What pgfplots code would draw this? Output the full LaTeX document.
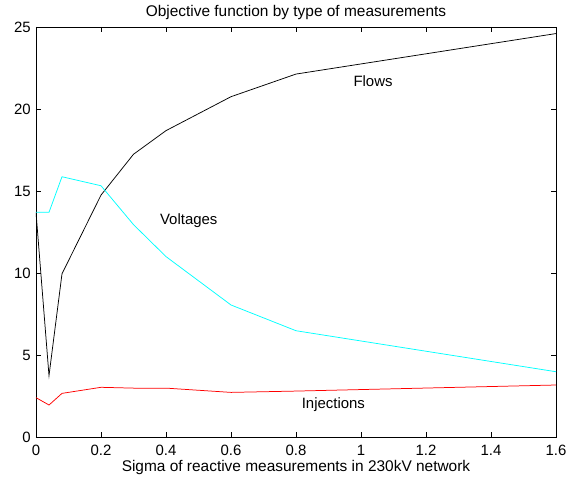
\documentclass[border=0pt]{standalone}
\usepackage{pgfplots}
\pgfplotsset{compat=1.18}
\usepackage{fontspec}
\setmainfont{Liberation Sans}
\definecolor{mcyan}{rgb}{0,1,1}
\begin{document}
\begin{tikzpicture}
\useasboundingbox (-36bp,-48bp) rectangle (549bp,437bp);
\begin{axis}[
  at={(0,0)}, anchor=south west,
  scale only axis, width=520bp, height=410bp,
  xmin=0, xmax=1.6, ymin=0, ymax=25,
  xtick={0,0.2,0.4,0.6,0.8,1,1.2,1.4,1.6},
  ytick={0,5,10,15,20,25},
  tick align=inside, major tick length=5bp,
  axis line style={line width=0.9pt},
  tick style={black, line width=0.5pt},
  /pgf/number format/assume math mode=true,
  /pgf/number format/fixed,
  ticklabel style={font=\fontsize{15}{17}\selectfont},
  xticklabel style={anchor=center, yshift=-13bp, inner sep=0pt},
  yticklabel style={anchor=east, inner sep=0pt, xshift=-5bp},
  title={Objective function by type of measurements},
  title style={font=\fontsize{15.5}{17}\selectfont, at={(axis description cs:0.5,1)}, anchor=center, yshift=9bp},
  xlabel={Sigma of reactive measurements in 230kV network},
  xlabel style={font=\fontsize{15.5}{17}\selectfont, at={(axis description cs:0.5,0)}, anchor=center, yshift=-31bp},
  every axis plot/.append style={line width=0.75pt},
]
\addplot[black] coordinates {(0,13.7) (0.04,3.74) (0.08,9.95) (0.2,14.75) (0.3,17.24) (0.4,18.68) (0.6,20.75) (0.8,22.13) (1.6,24.6)};
\addplot[mcyan] coordinates {(0,13.7) (0.04,13.7) (0.08,15.87) (0.2,15.32) (0.3,12.95) (0.4,11.0) (0.6,8.05) (0.8,6.48) (1.6,3.98)};
\addplot[red] coordinates {(0,2.4) (0.04,1.95) (0.08,2.66) (0.2,3.03) (0.3,2.98) (0.4,2.98) (0.6,2.72) (0.8,2.8) (1.6,3.17)};
\node[font=\fontsize{15}{17}\selectfont] at (axis cs:1.037,21.7) {Flows};
\node[font=\fontsize{15}{17}\selectfont] at (axis cs:0.47,13.2) {Voltages};
\node[font=\fontsize{15}{17}\selectfont] at (axis cs:0.915,2.0) {Injections};
\end{axis}
\end{tikzpicture}
\end{document}
